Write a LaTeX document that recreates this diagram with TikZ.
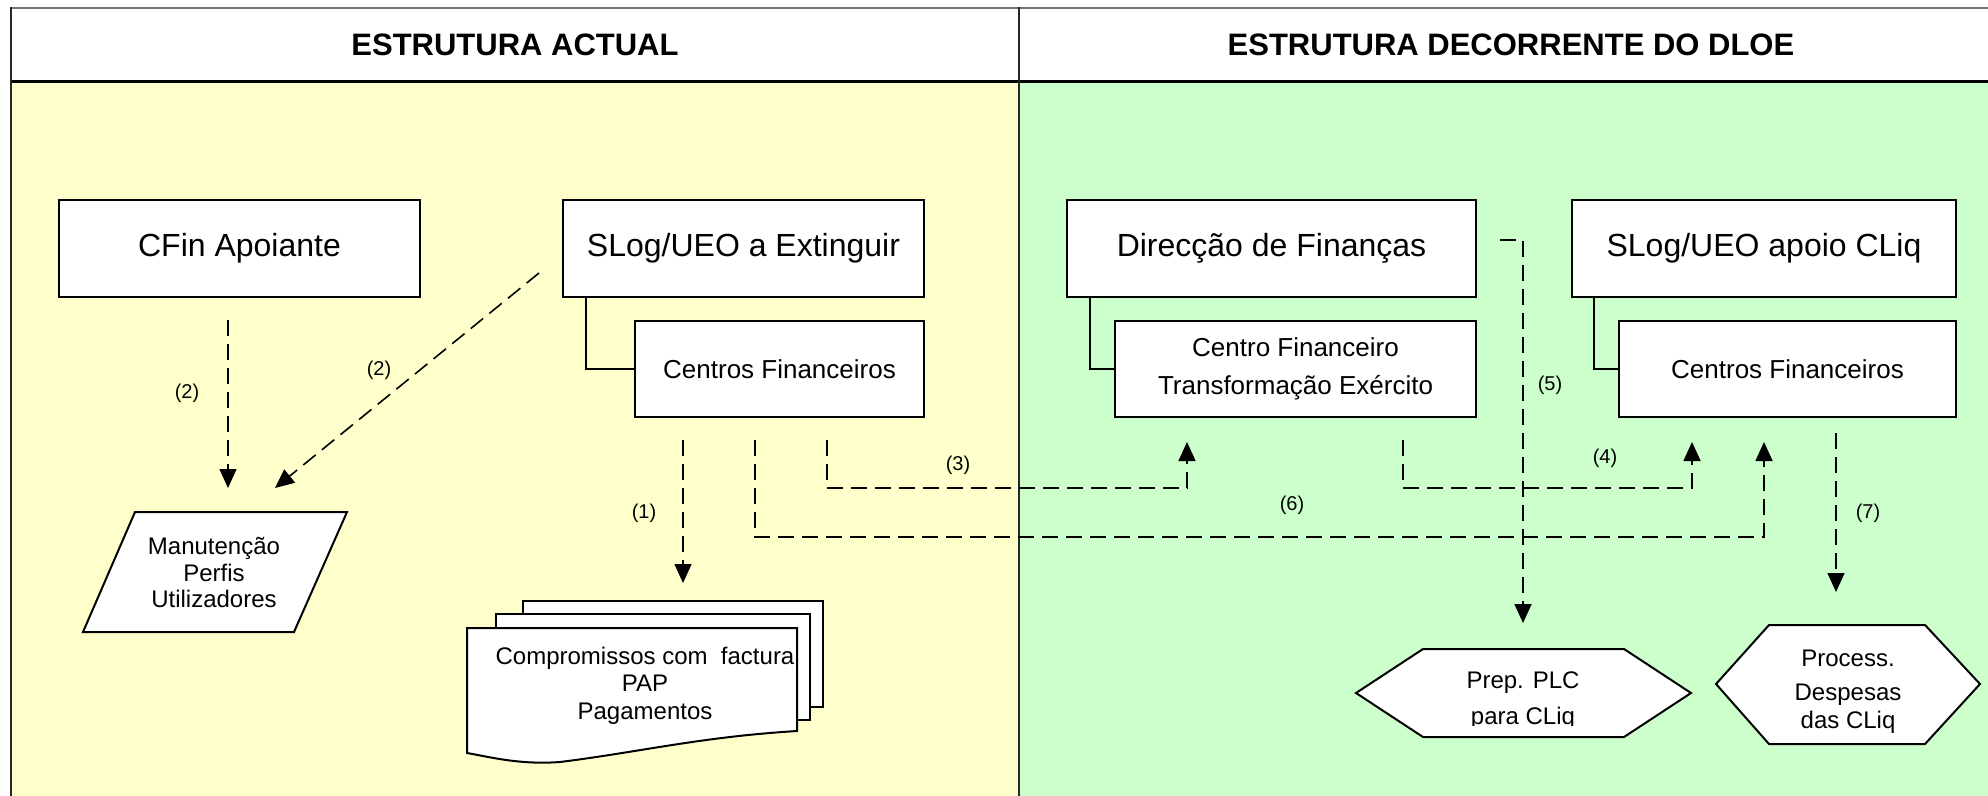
\documentclass[tikz,border=0pt]{standalone}
\usepackage{fontspec}
\setmainfont{Liberation Sans}
\usetikzlibrary{arrows.meta}
\definecolor{leftbg}{HTML}{FFFFCC}
\definecolor{rightbg}{HTML}{CCFFCC}
\tikzset{
  box/.style={draw=black, line width=2pt, fill=white, inner sep=0pt},
  flow/.style={draw=black, line width=1.6pt, dash pattern=on 16pt off 8pt, -{Triangle[width=17pt,length=19pt]}},
  link/.style={draw=black, line width=1.6pt},
  lbl/.style={font=\fontsize{20}{22}\selectfont, inner sep=0pt},
  bigtxt/.style={font=\fontsize{32}{36}\selectfont},
  midtxt/.style={font=\fontsize{26}{38}\selectfont, align=center},
  smalltxt/.style={font=\fontsize{24}{27}\selectfont, align=center, inner sep=0pt},
  shp/.style={draw=black, line width=2pt, fill=white, line join=miter},
  head/.style={font=\fontsize{31}{36}\selectfont\bfseries}
}
\begin{document}
\begin{tikzpicture}[x=1pt,y=-1pt]
\useasboundingbox (0,0) rectangle (1988,795);
\begin{scope}
\clip (0,0) rectangle (1988,795);
% backgrounds
\fill[white] (0,0) rectangle (1988,795);
\fill[white] (11,8) rectangle (2010,81);
\fill[leftbg] (11,81) rectangle (1019,810);
\fill[rightbg] (1019,81) rectangle (2010,810);
\draw[black!55, line width=2.5pt] (10,8) -- (2010,8);
\draw[black, line width=3pt] (11,81) -- (2010,81);
\draw[black!85, line width=2pt] (11,7) -- (11,810);
\draw[black!85, line width=2pt] (1019,7) -- (1019,810);
\end{scope}

% headers
\node[head] (h1) at (515,44.5) {ESTRUTURA ACTUAL};
\node[head] (h2) at (1511,44.5) {ESTRUTURA DECORRENTE DO DLOE};

% left boxes
\node[box, bigtxt, minimum width=361pt, minimum height=97pt] (cfin) at (239.5,248.5) {CFin Apoiante};
\node[box, bigtxt, minimum width=361pt, minimum height=97pt] (slog) at (743.5,248.5) {SLog/UEO a Extinguir};
\node[box, midtxt, minimum width=289pt, minimum height=96pt] (cf1) at (779.5,369) {Centros Financeiros};
\draw[link] ([xshift=24pt]slog.south west) |- (cf1.west);

% right boxes
\node[box, bigtxt, minimum width=409pt, minimum height=97pt] (dir) at (1271.5,248.5) {Direcção de Finanças};
\node[box, midtxt, minimum width=361pt, minimum height=96pt] (cfte) at (1295.5,369) {Centro Financeiro\\Transformação Exército};
\draw[link] ([xshift=24pt]dir.south west) |- (cfte.west);
\node[box, bigtxt, minimum width=384pt, minimum height=97pt] (slog2) at (1764,248.5) {SLog/UEO apoio CLiq};
\node[box, midtxt, minimum width=337pt, minimum height=96pt] (cf2) at (1787.5,369) {Centros Financeiros};
\draw[link] ([xshift=23pt]slog2.south west) |- (cf2.west);

% parallelogram
\draw[shp] (135,512) -- (347,512) -- (294,632) -- (83,632) -- cycle;
\node[smalltxt, font=\fontsize{24}{26.5}\selectfont] (manut) at (214,573) {Manutenção\\Perfis\\Utilizadores};

% multi-document
\draw[shp] (523,601) -- (823,601) -- (823,707) -- (523,707) -- cycle;
\draw[shp] (496,614) -- (810,614) -- (810,720) -- (496,720) -- cycle;
\draw[shp] (467,628) -- (797,628) -- (797,731) .. controls (700,737) and (640,752) .. (560,762) .. controls (520,765) and (490,757) .. (467,753) -- cycle;
\node[smalltxt, font=\fontsize{24}{27.5}\selectfont] (docs) at (645,685.5) {Compromissos com\ \ factura\\PAP\\Pagamentos};

% hexagons
\draw[shp] (1356,693) -- (1423,649) -- (1624,649) -- (1691,693) -- (1624,737) -- (1423,737) -- cycle;
\begin{scope}
\clip (1430,655) rectangle (1620,725);
\node[smalltxt, font=\fontsize{24}{36}\selectfont] (plc) at (1523,701) {Prep. PLC\\para CLiq};
\end{scope}
\draw[shp] (1716,684) -- (1769,625) -- (1925,625) -- (1980,684) -- (1925,744) -- (1769,744) -- cycle;
\node[smalltxt] (pr1) at (1848,658) {Process.};
\node[smalltxt] (pr2) at (1848,695) {Despesas};
\node[smalltxt] (pr3) at (1848,722) {das CLiq};

% arrow end points
\coordinate (a2s) at (228,320);  \coordinate (a2e) at (228,488);
\coordinate (b2s) at (539,273);  \coordinate (b2e) at (275,488);
\coordinate (a1s) at (683,440);  \coordinate (a1e) at (683,583);
\coordinate (a3s) at (827,440);  \coordinate (a3e) at (1187,442);
\coordinate (a6s) at (755,440);  \coordinate (a6e) at (1764,442);
\coordinate (a4s) at (1403,440); \coordinate (a4e) at (1692,442);
\coordinate (a5s) at (1500,240); \coordinate (a5e) at (1523,623);
\coordinate (a7s) at (1836,433); \coordinate (a7e) at (1836,592);

\draw[flow] (a2s) -- (a2e);
\draw[flow] (b2s) -- (b2e);
\draw[flow] (a1s) -- (a1e);
\draw[flow] (a3s) |- (1187,488) -- (a3e);
\draw[flow] (a6s) |- (1764,537) -- (a6e);
\draw[flow] (a4s) |- (1692,488) -- (a4e);
\draw[flow] (a5s) -| (a5e);
\draw[flow] (a7s) -- (a7e);

% labels
\node[lbl] (l2a) at (187,393) {(2)};
\node[lbl] (l2b) at (379,370) {(2)};
\node[lbl] (l1) at (644,513) {(1)};
\node[lbl] (l3) at (958,465) {(3)};
\node[lbl] (l6) at (1292,505) {(6)};
\node[lbl] (l4) at (1605,458) {(4)};
\node[lbl] (l5) at (1550,385) {(5)};
\node[lbl] (l7) at (1868,513) {(7)};
\end{tikzpicture}
\end{document}
